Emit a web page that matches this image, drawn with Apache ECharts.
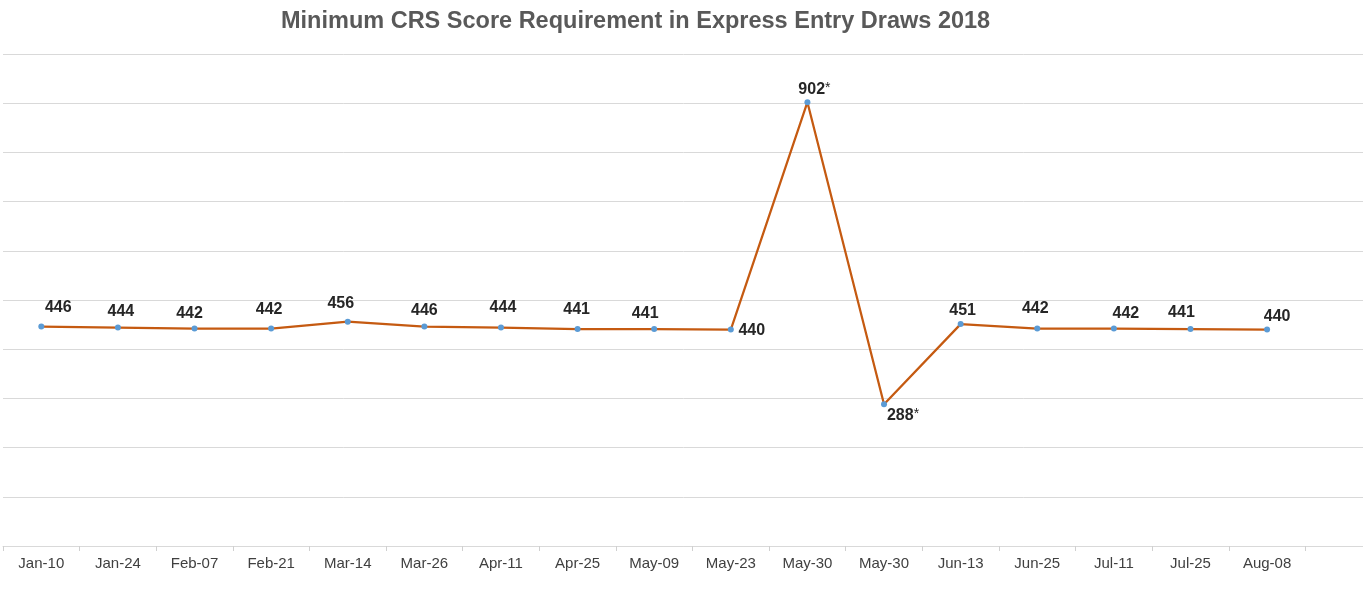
<!DOCTYPE html>
<html>
<head>
<meta charset="utf-8">
<title>Minimum CRS Score Requirement in Express Entry Draws 2018</title>
<script src="https://cdn.jsdelivr.net/npm/echarts@6/dist/echarts.min.js"></script>
<style>
  html, body { margin: 0; padding: 0; background: #fff; }
  #main { width: 1363px; height: 593px; }
</style>
</head>
<body>
<div id="main"></div>
<script>
// draw dates (last slot is the empty one the original chart leaves on the right)
var drawDates = ['Jan-10', 'Jan-24', 'Feb-07', 'Feb-21', 'Mar-14', 'Mar-26', 'Apr-11', 'Apr-25',
  'May-09', 'May-23', 'May-30', 'May-30', 'Jun-13', 'Jun-25', 'Jul-11', 'Jul-25', 'Aug-08', ''];
var minScores = [446, 444, 442, 442, 456, 446, 444, 441, 441, 440, 902, 288, 451, 442, 442, 441, 440];
// program-specific draws, marked with * in the chart
var starredDraws = [10, 11];
var yMin = 0, yMax = 1000, yStep = 100;

// label centre offsets from each point, as they were dragged in the original
var labelShift = [[17, -19], [3, -16], [-5, -15], [-2, -19], [-7, -18], [0, -16], [2, -20], [-1, -19],
  [-9, -15], [21, 1], [7, -13], [19, 11], [2, -14], [-2, -20], [12, -15], [-9, -16], [10, -13]];

var chart = echarts.init(document.getElementById('main'), null, { renderer: 'canvas' });
var font = '"Liberation Sans", Arial, sans-serif';

var seriesData = minScores.map(function (v, i) {
  return {
    value: v,
    label: { position: 'inside', offset: labelShift[i] }
  };
});

var option = {
  animation: false,
  backgroundColor: '#fff',
  textStyle: { fontFamily: font },
  title: {
    text: 'Minimum CRS Score Requirement in Express Entry Draws 2018',
    left: 281,
    top: 10,
    padding: 0,
    textStyle: { fontFamily: font, fontSize: 23.5, fontWeight: 'bold', color: '#595959' }
  },
  grid: { left: 3, top: 54, width: 1379, height: 492, outerBoundsMode: 'none' },
  xAxis: {
    type: 'category',
    data: drawDates,
    boundaryGap: true,
    axisLine: { lineStyle: { color: '#d9d9d9', width: 1 } },
    axisTick: { show: true, length: 5, lineStyle: { color: '#d0d0d0' } },
    axisLabel: { interval: 0, margin: 10, fontSize: 15, color: '#404040', fontFamily: font },
    splitLine: { show: false }
  },
  yAxis: {
    type: 'value',
    min: yMin,
    max: yMax,
    interval: yStep,
    axisLine: { show: false },
    axisTick: { show: false },
    axisLabel: { show: false },
    splitLine: { lineStyle: { color: '#d9d9d9', width: 1 } }
  },
  series: [{
    type: 'line',
    data: seriesData,
    symbol: 'circle',
    symbolSize: 6,
    lineStyle: { color: '#C55A11', width: 2.25 },
    itemStyle: { color: '#5B9BD5' },
    label: {
      show: true,
      formatter: function (p) {
        var star = starredDraws.indexOf(p.dataIndex) >= 0 ? '{s|*}' : '';
        return '{v|' + p.value + '}' + star;
      },
      rich: {
        v: { fontFamily: font, fontSize: 16, fontWeight: 'bold', color: '#262626' },
        s: { fontFamily: font, fontSize: 14, color: '#262626', verticalAlign: 'top' }
      }
    },
    emphasis: { disabled: true }
  }]
};

chart.setOption(option);
</script>
</body>
</html>
